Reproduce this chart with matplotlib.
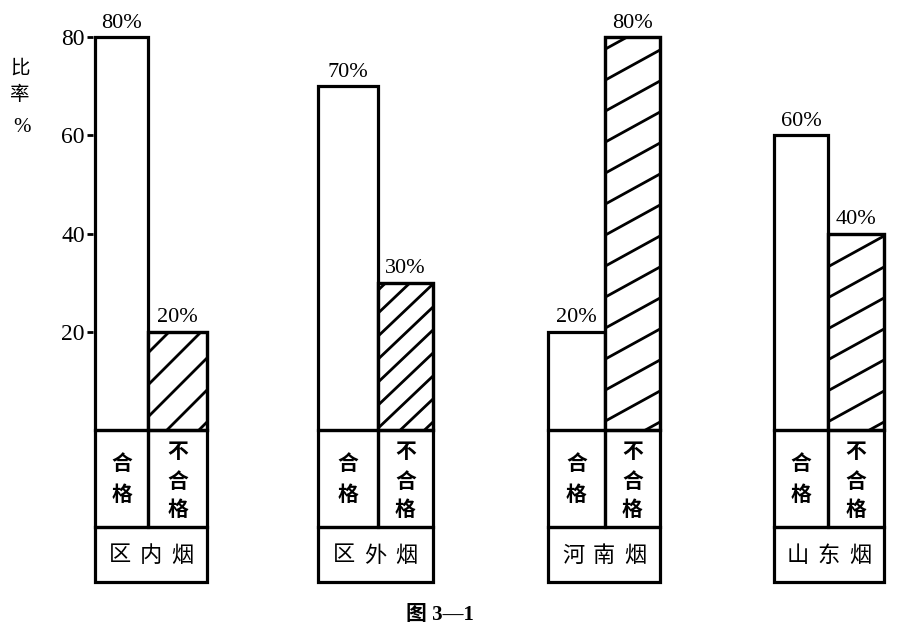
import numpy as np
import matplotlib
matplotlib.use('Agg')
import matplotlib.pyplot as plt
from matplotlib.patches import Rectangle
from matplotlib.lines import Line2D

# Données
groupes = ['区内烟', '区外烟', '河南烟', '山东烟']
hege = [80, 70, 20, 60]        # 合格 (%)
buhege = [20, 30, 80, 40]      # 不合格 (%)
yticks = [20, 40, 60, 80]

# Mise en page (pixels)
W, H = 902, 642
base_px = 430
px_per_unit = (430 - 37) / 80.0
lefts = [95, 318, 548, 774]
splits = [148, 378, 605, 828]
rights = [207, 433, 660, 884]
row1_bot = 527
row2_bot = 582
hatch_slope = [1.0, 0.95, 0.55, 0.55]
hatch_step = [32, 23, 31, 31]

serif = ['Liberation Serif', 'Noto Sans CJK SC']
cjk = ['Noto Sans CJK SC']

def to_val(p):
    return (base_px - p) / px_per_unit

fig = plt.figure(figsize=(W / 100, H / 100), dpi=100)
ax = fig.add_axes([93 / W, 0, 1 - 93 / W, 1])
ax.set_xlim(93, W)
ax.set_ylim(to_val(H), to_val(0))
for s in ax.spines.values():
    s.set_visible(False)
ax.set_xticks([])
ax.set_yticks(yticks)
ax.set_yticklabels([str(t) for t in yticks], fontfamily=serif, fontsize=17)
ax.tick_params(axis='y', length=4, width=2, pad=2, direction='out')

lw = 2.3
for i in range(len(groupes)):
    l, m, r = lefts[i], splits[i], rights[i]
    b1 = ax.bar(l, hege[i], width=m - l, align='edge', color='white',
                edgecolor='black', linewidth=lw, zorder=3)[0]
    b2 = ax.bar(m, buhege[i], width=r - m, align='edge', color='white',
                edgecolor='black', linewidth=lw, zorder=3)[0]

    # hachures
    top_px = buhege[i] * px_per_unit
    w = r - m
    y0 = -hatch_slope[i] * w + 8
    while y0 < top_px + 5:
        xs = np.array([m, r])
        ys = (y0 + hatch_slope[i] * (xs - m)) / px_per_unit
        ln = Line2D(xs, ys, color='black', lw=2.0, zorder=4)
        ax.add_line(ln)
        ln.set_clip_path(b2)
        y0 += hatch_step[i]
    ax.bar(m, buhege[i], width=r - m, align='edge', fill=False,
           edgecolor='black', linewidth=lw, zorder=5)

    # étiquettes de valeur
    ax.text((l + m) / 2, hege[i] + 0.9, f'{hege[i]}%', ha='center', va='bottom',
            fontfamily=serif, fontsize=16)
    ax.text((m + r) / 2, buhege[i] + 0.9, f'{buhege[i]}%', ha='center', va='bottom',
            fontfamily=serif, fontsize=16)

    # tableau sous les barres
    y_b = to_val(base_px)
    y_r1 = to_val(row1_bot)
    y_r2 = to_val(row2_bot)
    ax.add_patch(Rectangle((l, y_r1), m - l, y_b - y_r1, fill=False,
                           edgecolor='black', lw=lw, zorder=3))
    ax.add_patch(Rectangle((m, y_r1), r - m, y_b - y_r1, fill=False,
                           edgecolor='black', lw=lw, zorder=3))
    ax.add_patch(Rectangle((l, y_r2), r - l, y_r1 - y_r2, fill=False,
                           edgecolor='black', lw=lw, zorder=3))

    for ch, p in zip('合格', [464, 494]):
        ax.text((l + m) / 2, to_val(p), ch, ha='center', va='center',
                fontfamily=cjk, fontsize=15, fontweight='bold')
    for ch, p in zip('不合格', [452, 481, 509]):
        ax.text((m + r) / 2, to_val(p), ch, ha='center', va='center',
                fontfamily=cjk, fontsize=15, fontweight='bold')
    cx = (l + r) / 2
    for k, ch in enumerate(groupes[i]):
        ax.text(cx + (k - 1) * 31, to_val(555), ch, ha='center', va='center',
                fontfamily=cjk, fontsize=16, fontweight='medium')

# titre de l'axe
for ch, p in zip('比率', [68, 95]):
    fig.text(20 / W, 1 - p / H, ch, ha='center', va='center',
             fontfamily=cjk, fontsize=14)
fig.text(22 / W, 1 - 128 / H, '%', ha='center', va='center',
         fontfamily=serif, fontsize=15)

# légende de la figure
fig.text(440 / W, 1 - 615 / H, '图 3—1', ha='center', va='center',
         fontfamily=serif, fontsize=15, fontweight='bold')

fig.savefig('out.png', dpi=100)
